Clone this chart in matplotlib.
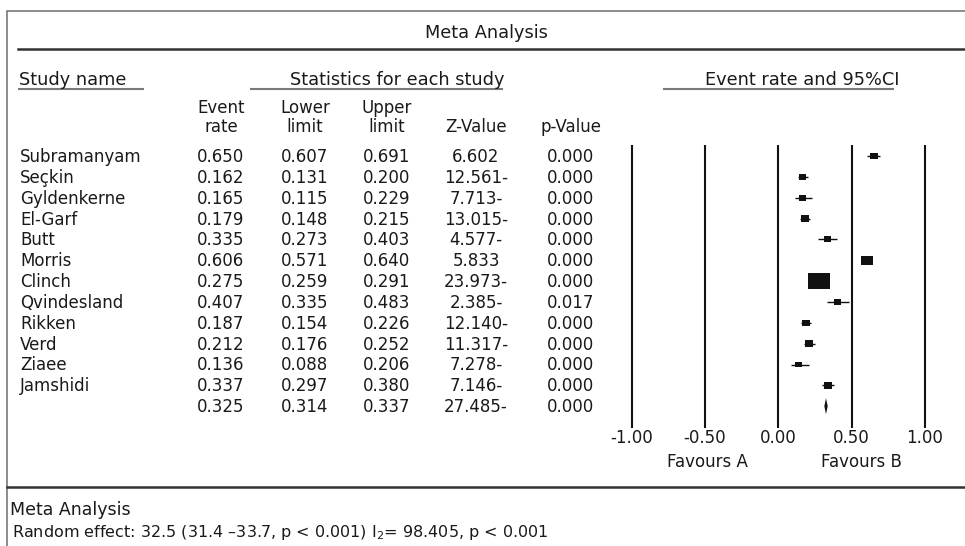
import numpy as np
import matplotlib.pyplot as plt
from matplotlib.patches import Rectangle, Polygon
from matplotlib.transforms import blended_transform_factory

# study rows, top to bottom
study = ["Subramanyam", "Seçkin", "Gyldenkerne", "El-Garf", "Butt", "Morris",
         "Clinch", "Qvindesland", "Rikken", "Verd", "Ziaee", "Jamshidi"]
event_rate = [0.650, 0.162, 0.165, 0.179, 0.335, 0.606, 0.275, 0.407, 0.187, 0.212, 0.136, 0.337]
lower = [0.607, 0.131, 0.115, 0.148, 0.273, 0.571, 0.259, 0.335, 0.154, 0.176, 0.088, 0.297]
upper = [0.691, 0.200, 0.229, 0.215, 0.403, 0.640, 0.291, 0.483, 0.226, 0.252, 0.206, 0.380]
z_value = [6.602, -12.561, -7.713, -13.015, -4.577, 5.833, -23.973, -2.385,
           -12.140, -11.317, -7.278, -7.146]
p_value = [0.000, 0.000, 0.000, 0.000, 0.000, 0.000, 0.000, 0.017, 0.000, 0.000, 0.000, 0.000]
rel_weight = [8, 7, 7, 8, 7, 12, 22, 7, 8, 8, 7, 8]  # box size

# pooled (random effect) row
pooled_rate, pooled_lower, pooled_upper = 0.325, 0.314, 0.337
pooled_z, pooled_p = -27.485, 0.000
i2 = 98.405

axis_ticks = [-1.0, -0.5, 0.0, 0.5, 1.0]


def fmt_z(z):
    # the source prints negative Z with the minus sign trailing
    return f"{abs(z):.3f}-" if z < 0 else f"{z:.3f}"


W, H = 965, 546
fig = plt.figure(figsize=(W / 100, H / 100), dpi=100)

# pixel-coordinate layer for the table and frame
bg = fig.add_axes([0, 0, 1, 1])
bg.set_xlim(0, W)
bg.set_ylim(H, 0)
bg.axis('off')

bg.plot([7, 7, W], [H, 10.5, 10.5], color='#6e6e6e', lw=1.1, solid_joinstyle='miter')
bg.plot([18, W], [49, 49], color='#333333', lw=1.8)
bg.plot([7, W], [487, 487], color='#333333', lw=1.8)

head_fs = 12.8
body_fs = 12
txt_col = '#1a1a1a'
bg.text(486, 33, "Meta Analysis", ha='center', va='center', fontsize=head_fs, color=txt_col)
bg.text(19, 80, "Study name", ha='left', va='center', fontsize=head_fs, color=txt_col)
bg.text(397, 80, "Statistics for each study", ha='center', va='center', fontsize=head_fs, color=txt_col)
bg.text(802, 80, "Event rate and 95%CI", ha='center', va='center', fontsize=head_fs, color=txt_col)
for x0, x1 in [(19, 143), (251, 502), (664, 893)]:
    bg.plot([x0, x1], [88.5, 88.5], color='#7a7a7a', lw=1.5)

col_x = [221, 305, 387, 476, 571]
for x, t in zip(col_x, ["Event", "Lower", "Upper", "", ""]):
    bg.text(x, 108, t, ha='center', va='center', fontsize=body_fs, color=txt_col)
for x, t in zip(col_x, ["rate", "limit", "limit", "Z-Value", "p-Value"]):
    bg.text(x, 127, t, ha='center', va='center', fontsize=body_fs, color=txt_col)

row0, row_h = 156, 20.85
n = len(study)
for i in range(n):
    y = row0 + row_h * i + 1
    bg.text(20, y, study[i], ha='left', va='center', fontsize=body_fs, color=txt_col)
    vals = [f"{event_rate[i]:.3f}", f"{lower[i]:.3f}", f"{upper[i]:.3f}",
            fmt_z(z_value[i]), f"{p_value[i]:.3f}"]
    for x, t in zip(col_x, vals):
        bg.text(x, y, t, ha='center', va='center', fontsize=body_fs, color=txt_col)

y = row0 + row_h * n + 1
vals = [f"{pooled_rate:.3f}", f"{pooled_lower:.3f}", f"{pooled_upper:.3f}",
        fmt_z(pooled_z), f"{pooled_p:.3f}"]
for x, t in zip(col_x, vals):
    bg.text(x, y, t, ha='center', va='center', fontsize=body_fs, color=txt_col)

# forest plot panel
top_px, bot_px = 145, 428
x_lo, x_hi = -1.2, 1.2
px_per_x = 146.65
left_px = 778.3 + x_lo * px_per_x
ax = fig.add_axes([left_px / W, 1 - bot_px / H, (x_hi - x_lo) * px_per_x / W, (bot_px - top_px) / H])
ax.patch.set_alpha(0)
ax.set_xlim(x_lo, x_hi)
ax.set_ylim((bot_px - row0) / row_h, (top_px - row0) / row_h)
for s in ax.spines.values():
    s.set_visible(False)
ax.set_yticks([])
ax.set_xticks(axis_ticks)
ax.set_xticklabels([f"{t:.2f}" for t in axis_ticks], fontsize=body_fs, color=txt_col)
ax.tick_params(axis='x', length=0, pad=1)

for t in axis_ticks:
    ax.axvline(t, color='#111111', lw=1.5)

rows = np.arange(n)
ax.hlines(rows, lower, upper, color='#111111', lw=1.0)
for i in range(n):
    w = rel_weight[i] / px_per_x
    h = (0.7 * rel_weight[i] + 1) / row_h
    ax.add_patch(Rectangle((event_rate[i] - w / 2, i - h / 2), w, h,
                           facecolor='#111111', edgecolor='none'))

dh = 8 / row_h
ax.add_patch(Polygon([(pooled_lower, n), (pooled_rate, n - dh), (pooled_upper, n),
                      (pooled_rate, n + dh)], closed=True, facecolor='#111111',
                     edgecolor='none'))

trans = blended_transform_factory(ax.transData, bg.transData)
ax.text(-0.48, 462, "Favours A", transform=trans, ha='center', va='center',
        fontsize=body_fs, color=txt_col)
ax.text(0.57, 462, "Favours B", transform=trans, ha='center', va='center',
        fontsize=body_fs, color=txt_col)

bg.text(10, 510, "Meta Analysis", ha='left', va='center', fontsize=12.5, color=txt_col)
bg.text(12, 532,
        f"Random effect: {pooled_rate * 100:.1f} ({pooled_lower * 100:.1f} \u2013{pooled_upper * 100:.1f}, "
        f"p < 0.001) I$_2$= {i2:.3f}, p < 0.001",
        ha='left', va='center', fontsize=11.5, color=txt_col)

fig.savefig('out.png', dpi=100)
